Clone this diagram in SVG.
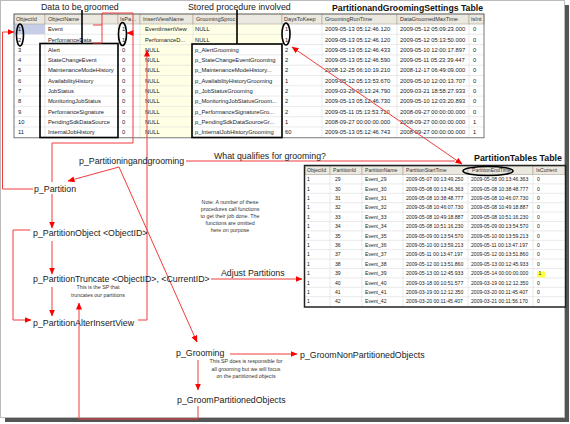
<svg xmlns="http://www.w3.org/2000/svg" width="570" height="424" viewBox="0 0 570 424">
<defs>
<style>
text{font-family:"Liberation Sans",Arial,sans-serif;fill:#1a1a1a}
.c{font-size:5.8px}
.d{font-size:5.1px}
.h{font-size:5.6px;fill:#333}
.h2{font-size:5.1px;fill:#333}
.l{font-size:8.8px}
.n{font-size:5.3px;text-anchor:middle;fill:#333}
.ttl{font-size:9.3px;font-weight:bold;fill:#111}
.cn{fill:none;stroke:#f03c3c;stroke-width:1}
.grid{stroke:#dcdcdc;stroke-width:0.6}
.hd{fill:#ebe8e0;stroke:#aaa69a;stroke-width:0.6}
.blk{fill:none;stroke:#000;stroke-width:1.6}
</style>
<marker id="ah" markerWidth="7" markerHeight="6" refX="6.5" refY="3" orient="auto-start-reverse" markerUnits="userSpaceOnUse"><path d="M0,0 L7,3 L0,6 z" fill="#f00"/></marker>
</defs>
<rect x="0" y="0" width="570" height="424" fill="#fff"/>
<rect x="565" y="5" width="4" height="417" fill="#555"/>
<rect x="5" y="418" width="564" height="4" fill="#555"/>
<rect x="0.5" y="0.5" width="564" height="417" fill="#fff" stroke="#bbb"/>

<g id="settings-table">
<rect x="14" y="14" width="470" height="124" fill="#fff"/>
<rect x="140" y="24" width="53" height="113.3" fill="#ffffe6"/>
<rect x="193" y="24" width="89" height="20.6" fill="#ffffe6"/>
<rect x="14" y="24" width="31" height="10.3" fill="#c6cde6"/>
<g class="grid">
<line x1="14" y1="34.3" x2="484" y2="34.3"/><line x1="14" y1="44.6" x2="484" y2="44.6"/><line x1="14" y1="54.9" x2="484" y2="54.9"/><line x1="14" y1="65.2" x2="484" y2="65.2"/><line x1="14" y1="75.5" x2="484" y2="75.5"/><line x1="14" y1="85.8" x2="484" y2="85.8"/><line x1="14" y1="96.1" x2="484" y2="96.1"/><line x1="14" y1="106.4" x2="484" y2="106.4"/><line x1="14" y1="116.7" x2="484" y2="116.7"/><line x1="14" y1="127" x2="484" y2="127"/>
<line x1="45" y1="24" x2="45" y2="137.3"/><line x1="118" y1="24" x2="118" y2="137.3"/><line x1="140" y1="24" x2="140" y2="137.3"/><line x1="193" y1="24" x2="193" y2="137.3"/><line x1="282" y1="24" x2="282" y2="137.3"/><line x1="322" y1="24" x2="322" y2="137.3"/><line x1="397" y1="24" x2="397" y2="137.3"/><line x1="469" y1="24" x2="469" y2="137.3"/>
</g>
<rect class="hd" x="14" y="14" width="31" height="10"/><rect class="hd" x="45" y="14" width="73" height="10"/><rect class="hd" x="118" y="14" width="22" height="10"/><rect class="hd" x="140" y="14" width="53" height="10"/><rect class="hd" x="193" y="14" width="89" height="10"/><rect class="hd" x="282" y="14" width="40" height="10"/><rect class="hd" x="322" y="14" width="75" height="10"/><rect class="hd" x="397" y="14" width="72" height="10"/><rect class="hd" x="469" y="14" width="15" height="10"/>
<text class="h" x="16" y="21.3">ObjectId</text><text class="h" x="48" y="21.3">ObjectName</text><text class="h" x="120" y="21.3">IsPa...</text><text class="h" x="143" y="21.3">InsertViewName</text><text class="h" x="196" y="21.3">GroomingSproc</text><text class="h" x="284" y="21.3">DaysToKeep</text><text class="h" x="325" y="21.3">GroomingRunTime</text><text class="h" x="400" y="21.3">DataGroomedMaxTime</text><text class="h" x="471" y="21.3">IsInt</text>
<rect x="14" y="14" width="470" height="123.8" fill="none" stroke="#555" stroke-width="0.8"/>
<g>
<text class="c" x="18" y="31.2">1</text><text class="c" x="48" y="31.2">Event</text><text class="c" x="122" y="31.2">1</text><text class="c" x="145" y="31.2">EventInsertView</text><text class="c" x="195" y="31.2">NULL</text><text class="c" x="285" y="31.2">1</text><text class="c" x="325" y="31.2">2009-05-13 05:12:46.120</text><text class="c" x="400" y="31.2">2009-05-12 05:09:23.000</text><text class="c" x="473" y="31.2">0</text>
<text class="c" x="18" y="41.5">2</text><text class="c" x="48" y="41.5">PerfomanceData</text><text class="c" x="122" y="41.5">1</text><text class="c" x="145" y="41.5">PerfomanceD...</text><text class="c" x="195" y="41.5">NULL</text><text class="c" x="285" y="41.5">1</text><text class="c" x="325" y="41.5">2009-05-13 05:12:46.120</text><text class="c" x="400" y="41.5">2009-05-12 05:13:50.000</text><text class="c" x="473" y="41.5">0</text>
<text class="c" x="18" y="51.8">3</text><text class="c" x="48" y="51.8">Alert</text><text class="c" x="122" y="51.8">0</text><text class="c" x="145" y="51.8">NULL</text><text class="c" x="195" y="51.8">p_AlertGrooming</text><text class="c" x="285" y="51.8">2</text><text class="c" x="325" y="51.8">2009-05-13 05:12:46.433</text><text class="c" x="400" y="51.8">2009-05-10 12:00:17.897</text><text class="c" x="473" y="51.8">0</text>
<text class="c" x="18" y="62.1">4</text><text class="c" x="48" y="62.1">StateChangeEvent</text><text class="c" x="122" y="62.1">0</text><text class="c" x="145" y="62.1">NULL</text><text class="c" x="195" y="62.1">p_StateChangeEventGrooming</text><text class="c" x="285" y="62.1">2</text><text class="c" x="325" y="62.1">2009-05-13 05:12:46.590</text><text class="c" x="400" y="62.1">2009-05-11 05:23:39.447</text><text class="c" x="473" y="62.1">0</text>
<text class="c" x="18" y="72.4">5</text><text class="c" x="48" y="72.4">MaintenanceModeHistory</text><text class="c" x="122" y="72.4">0</text><text class="c" x="145" y="72.4">NULL</text><text class="c" x="195" y="72.4">p_MaintenanceModeHistory...</text><text class="c" x="285" y="72.4">2</text><text class="c" x="325" y="72.4">2008-12-25 06:10:19.210</text><text class="c" x="400" y="72.4">2008-12-17 06:49:09.000</text><text class="c" x="473" y="72.4">0</text>
<text class="c" x="18" y="82.7">6</text><text class="c" x="48" y="82.7">AvailabilityHistory</text><text class="c" x="122" y="82.7">0</text><text class="c" x="145" y="82.7">NULL</text><text class="c" x="195" y="82.7">p_AvailabilityHistoryGrooming</text><text class="c" x="285" y="82.7">1</text><text class="c" x="325" y="82.7">2009-05-12 05:13:53.670</text><text class="c" x="400" y="82.7">2009-05-10 12:00:13.707</text><text class="c" x="473" y="82.7">0</text>
<text class="c" x="18" y="93">7</text><text class="c" x="48" y="93">JobStatus</text><text class="c" x="122" y="93">0</text><text class="c" x="145" y="93">NULL</text><text class="c" x="195" y="93">p_JobStatusGrooming</text><text class="c" x="285" y="93">2</text><text class="c" x="325" y="93">2009-03-29 06:13:24.790</text><text class="c" x="400" y="93">2009-03-21 18:58:27.933</text><text class="c" x="473" y="93">0</text>
<text class="c" x="18" y="103.3">8</text><text class="c" x="48" y="103.3">MonitoringJobStatus</text><text class="c" x="122" y="103.3">0</text><text class="c" x="145" y="103.3">NULL</text><text class="c" x="195" y="103.3">p_MonitoringJobStatusGroom...</text><text class="c" x="285" y="103.3">2</text><text class="c" x="325" y="103.3">2009-05-13 05:12:46.730</text><text class="c" x="400" y="103.3">2009-05-10 12:03:20.893</text><text class="c" x="473" y="103.3">0</text>
<text class="c" x="18" y="113.6">9</text><text class="c" x="48" y="113.6">PerfomanceSignature</text><text class="c" x="122" y="113.6">0</text><text class="c" x="145" y="113.6">NULL</text><text class="c" x="195" y="113.6">p_PerformanceSignatureGro...</text><text class="c" x="285" y="113.6">2</text><text class="c" x="325" y="113.6">2009-05-11 05:13:53.710</text><text class="c" x="400" y="113.6">2008-09-27 00:00:00.000</text><text class="c" x="473" y="113.6">0</text>
<text class="c" x="18" y="123.9">10</text><text class="c" x="48" y="123.9">PendingSdkDataSource</text><text class="c" x="122" y="123.9">0</text><text class="c" x="145" y="123.9">NULL</text><text class="c" x="195" y="123.9">p_PendingSdkDataSourceGr...</text><text class="c" x="285" y="123.9">1</text><text class="c" x="325" y="123.9">2008-09-27 00:00:00.000</text><text class="c" x="400" y="123.9">2008-09-27 00:00:00.000</text><text class="c" x="473" y="123.9">1</text>
<text class="c" x="18" y="134.2">11</text><text class="c" x="48" y="134.2">InternalJobHistory</text><text class="c" x="122" y="134.2">0</text><text class="c" x="145" y="134.2">NULL</text><text class="c" x="195" y="134.2">p_InternalJobHistoryGrooming</text><text class="c" x="285" y="134.2">60</text><text class="c" x="325" y="134.2">2009-05-13 05:12:46.743</text><text class="c" x="400" y="134.2">2008-09-27 00:00:00.000</text><text class="c" x="473" y="134.2">1</text>
</g>
<text class="ttl" x="332" y="10.5" textLength="151" lengthAdjust="spacingAndGlyphs">PartitionandGroomingSettings Table</text>
</g>

<g id="partition-table">
<rect x="305" y="166" width="260" height="140.5" fill="#fff"/>
<g class="grid">
<line x1="305" y1="183.9" x2="565" y2="183.9"/><line x1="305" y1="193.3" x2="565" y2="193.3"/><line x1="305" y1="202.7" x2="565" y2="202.7"/><line x1="305" y1="212.1" x2="565" y2="212.1"/><line x1="305" y1="221.5" x2="565" y2="221.5"/><line x1="305" y1="230.9" x2="565" y2="230.9"/><line x1="305" y1="240.3" x2="565" y2="240.3"/><line x1="305" y1="249.7" x2="565" y2="249.7"/><line x1="305" y1="259.1" x2="565" y2="259.1"/><line x1="305" y1="268.5" x2="565" y2="268.5"/><line x1="305" y1="277.9" x2="565" y2="277.9"/><line x1="305" y1="287.3" x2="565" y2="287.3"/><line x1="305" y1="296.7" x2="565" y2="296.7"/>
<line x1="330" y1="174.5" x2="330" y2="306.5"/><line x1="362" y1="174.5" x2="362" y2="306.5"/><line x1="403" y1="174.5" x2="403" y2="306.5"/><line x1="468" y1="174.5" x2="468" y2="306.5"/><line x1="533" y1="174.5" x2="533" y2="306.5"/>
</g>
<rect class="hd" x="305" y="166" width="25" height="8.5"/><rect class="hd" x="330" y="166" width="32" height="8.5"/><rect class="hd" x="362" y="166" width="41" height="8.5"/><rect class="hd" x="403" y="166" width="65" height="8.5"/><rect class="hd" x="468" y="166" width="65" height="8.5"/><rect class="hd" x="533" y="166" width="32" height="8.5"/>
<text class="h2" x="307" y="172.3">ObjectId</text><text class="h2" x="333" y="172.3">PartitionId</text><text class="h2" x="365" y="172.3">PartitionName</text><text class="h2" x="406" y="172.3">PartitionStartTime</text><text class="h2" x="472" y="172.3">PartitionEndTime</text><text class="h2" x="536" y="172.3">IsCurrent</text>
<rect x="537" y="271.5" width="8" height="6" fill="#ffff40"/>
<g>
<text class="d" x="307" y="181.2">1</text><text class="d" x="335" y="181.2">29</text><text class="d" x="365" y="181.2">Event_29</text><text class="d" x="406" y="181.2">2009-05-07 00:13:49.250</text><text class="d" x="471" y="181.2">2009-05-08 00:13:46.363</text><text class="d" x="537" y="181.2">0</text>
<text class="d" x="307" y="190.6">1</text><text class="d" x="335" y="190.6">30</text><text class="d" x="365" y="190.6">Event_30</text><text class="d" x="406" y="190.6">2009-05-08 00:13:46.363</text><text class="d" x="471" y="190.6">2009-05-08 10:38:48.777</text><text class="d" x="537" y="190.6">0</text>
<text class="d" x="307" y="200">1</text><text class="d" x="335" y="200">31</text><text class="d" x="365" y="200">Event_31</text><text class="d" x="406" y="200">2009-05-08 10:38:48.777</text><text class="d" x="471" y="200">2009-05-08 10:46:07.730</text><text class="d" x="537" y="200">0</text>
<text class="d" x="307" y="209.4">1</text><text class="d" x="335" y="209.4">32</text><text class="d" x="365" y="209.4">Event_32</text><text class="d" x="406" y="209.4">2009-05-08 10:46:07.730</text><text class="d" x="471" y="209.4">2009-05-08 10:49:18.887</text><text class="d" x="537" y="209.4">0</text>
<text class="d" x="307" y="218.8">1</text><text class="d" x="335" y="218.8">33</text><text class="d" x="365" y="218.8">Event_33</text><text class="d" x="406" y="218.8">2009-05-08 10:49:18.887</text><text class="d" x="471" y="218.8">2009-05-08 10:51:16.230</text><text class="d" x="537" y="218.8">0</text>
<text class="d" x="307" y="228.2">1</text><text class="d" x="335" y="228.2">34</text><text class="d" x="365" y="228.2">Event_34</text><text class="d" x="406" y="228.2">2009-05-08 10:51:16.230</text><text class="d" x="471" y="228.2">2009-05-09 00:13:54.570</text><text class="d" x="537" y="228.2">0</text>
<text class="d" x="307" y="237.6">1</text><text class="d" x="335" y="237.6">35</text><text class="d" x="365" y="237.6">Event_35</text><text class="d" x="406" y="237.6">2009-05-09 00:13:54.570</text><text class="d" x="471" y="237.6">2009-05-10 00:13:59.213</text><text class="d" x="537" y="237.6">0</text>
<text class="d" x="307" y="247">1</text><text class="d" x="335" y="247">36</text><text class="d" x="365" y="247">Event_36</text><text class="d" x="406" y="247">2009-05-10 00:13:59.213</text><text class="d" x="471" y="247">2009-05-11 00:13:47.197</text><text class="d" x="537" y="247">0</text>
<text class="d" x="307" y="256.4">1</text><text class="d" x="335" y="256.4">37</text><text class="d" x="365" y="256.4">Event_37</text><text class="d" x="406" y="256.4">2009-05-11 00:13:47.197</text><text class="d" x="471" y="256.4">2009-05-12 00:13:51.860</text><text class="d" x="537" y="256.4">0</text>
<text class="d" x="307" y="265.8">1</text><text class="d" x="335" y="265.8">38</text><text class="d" x="365" y="265.8">Event_38</text><text class="d" x="406" y="265.8">2009-05-12 00:13:51.860</text><text class="d" x="471" y="265.8">2009-05-13 00:12:45.933</text><text class="d" x="537" y="265.8">0</text>
<text class="d" x="307" y="275.2">1</text><text class="d" x="335" y="275.2">39</text><text class="d" x="365" y="275.2">Event_39</text><text class="d" x="406" y="275.2">2009-05-13 00:12:45.933</text><text class="d" x="471" y="275.2">2009-05-14 00:00:00.000</text><text class="d" x="538.5" y="275.2">1</text>
<text class="d" x="307" y="284.6">1</text><text class="d" x="335" y="284.6">40</text><text class="d" x="365" y="284.6">Event_40</text><text class="d" x="406" y="284.6">2009-03-18 00:10:51.577</text><text class="d" x="471" y="284.6">2009-03-19 00:12:12.350</text><text class="d" x="537" y="284.6">0</text>
<text class="d" x="307" y="294">1</text><text class="d" x="335" y="294">41</text><text class="d" x="365" y="294">Event_41</text><text class="d" x="406" y="294">2009-03-19 00:12:12.350</text><text class="d" x="471" y="294">2009-03-20 00:11:45.407</text><text class="d" x="537" y="294">0</text>
<text class="d" x="307" y="303.4">1</text><text class="d" x="335" y="303.4">42</text><text class="d" x="365" y="303.4">Event_42</text><text class="d" x="406" y="303.4">2009-03-20 00:11:45.407</text><text class="d" x="471" y="303.4">2009-03-21 00:11:56.170</text><text class="d" x="537" y="303.4">0</text>
</g>
<rect x="304.5" y="165.5" width="261" height="141.5" fill="none" stroke="#222" stroke-width="1.5"/>
<text class="ttl" x="474" y="161" textLength="88" lengthAdjust="spacingAndGlyphs">PartitionTables Table</text>
</g>

<g id="highlights">
<rect class="blk" x="40" y="43.5" width="78" height="94"/>
<line class="blk" x1="82" y1="10" x2="82" y2="43.5"/>
<rect class="blk" x="192" y="44" width="90" height="93.5"/>
<line class="blk" x1="237" y1="10" x2="237" y2="44"/>
<ellipse class="blk" cx="20" cy="35" rx="3.5" ry="11"/>
<ellipse class="blk" cx="122.5" cy="34" rx="4" ry="11.5"/>
<ellipse class="blk" cx="286" cy="34" rx="4" ry="11"/>
<ellipse class="blk" cx="488" cy="171" rx="25" ry="4.5"/>
</g>

<g id="connectors">
<path class="cn" d="M33,189 H2.5 V32 H14" marker-end="url(#ah)"/>
<path class="cn" d="M52,182 V143 H133 V33 H127" marker-end="url(#ah)"/>
<path class="cn" d="M93,25 H102 V43 H93 M102,25 V13 H133 V33"/>
<path class="cn" d="M138,320 H147 V50" marker-end="url(#ah)"/>
<path class="cn" d="M119,167 L68,181" marker-end="url(#ah)"/>
<path class="cn" d="M119,167 L197,342" marker-end="url(#ah)"/>
<path class="cn" d="M186,161 H455"/>
<path class="cn" d="M292,47 L462,164" marker-start="url(#ah)" marker-end="url(#ah)"/>
<path class="cn" d="M52,194 V228" marker-end="url(#ah)"/>
<path class="cn" d="M52,241 V274" marker-end="url(#ah)"/>
<path class="cn" d="M52,287 V316" marker-end="url(#ah)"/>
<path class="cn" d="M30,230 H13 V320 H31" marker-end="url(#ah)"/>
<path class="cn" d="M211,279 H302" marker-end="url(#ah)"/>
<path class="cn" d="M230,354 H297" marker-end="url(#ah)"/>
<path class="cn" d="M198,360 V390" marker-end="url(#ah)"/>
<path class="cn" d="M198,406 V419 H79 V303" marker-end="url(#ah)"/>
</g>

<g id="label-data"><text class="l" x="41" y="9.5">Data to be groomed</text></g>
<g id="label-sproc"><text class="l" x="188" y="9.5">Stored procedure involved</text></g>
<g id="label-qualifies"><text class="l" x="214" y="159">What qualifies for grooming?</text></g>
<g id="p_Partitioningandgrooming"><text class="l" x="79" y="164">p_Partitioningandgrooming</text></g>
<g id="p_Partition"><text class="l" x="34" y="192">p_Partition</text></g>
<g id="note"><text class="n" x="230" y="204">Note:  A number of these</text><text class="n" x="230" y="211">procedures call functions</text><text class="n" x="230" y="218">to get their job done.  The</text><text class="n" x="230" y="225">functions are omitted</text><text class="n" x="230" y="231.5">here on purpose</text></g>
<g id="p_PartitionObject"><text class="l" x="33" y="236">p_PartitionObject &lt;ObjectID&gt;</text></g>
<g id="p_PartitionTruncate"><text class="l" x="33" y="282">p_PartitionTruncate &lt;ObjectID&gt;, &lt;CurrentID&gt;</text><text class="n" x="98" y="289">This is the SP that</text><text class="n" x="98" y="296.5">truncates our partitions</text></g>
<g id="label-adjust"><text class="l" x="221" y="276">Adjust Partitions</text></g>
<g id="p_PartitionAlterInsertView"><text class="l" x="33" y="326">p_PartitionAlterInsertView</text></g>
<g id="p_Grooming"><text class="l" x="176" y="356">p_Grooming</text><text class="n" x="246" y="363">This SP does is responsible for</text><text class="n" x="246" y="370.5">all grooming but we will focus</text><text class="n" x="246" y="378">on the partitioned objects</text></g>
<g id="p_GroomNonPartitionedObjects"><text class="l" x="300" y="358">p_GroomNonPartitionedObjects</text></g>
<g id="p_GroomPartitionedObjects"><text class="l" x="177" y="403">p_GroomPartitionedObjects</text></g>
</svg>
